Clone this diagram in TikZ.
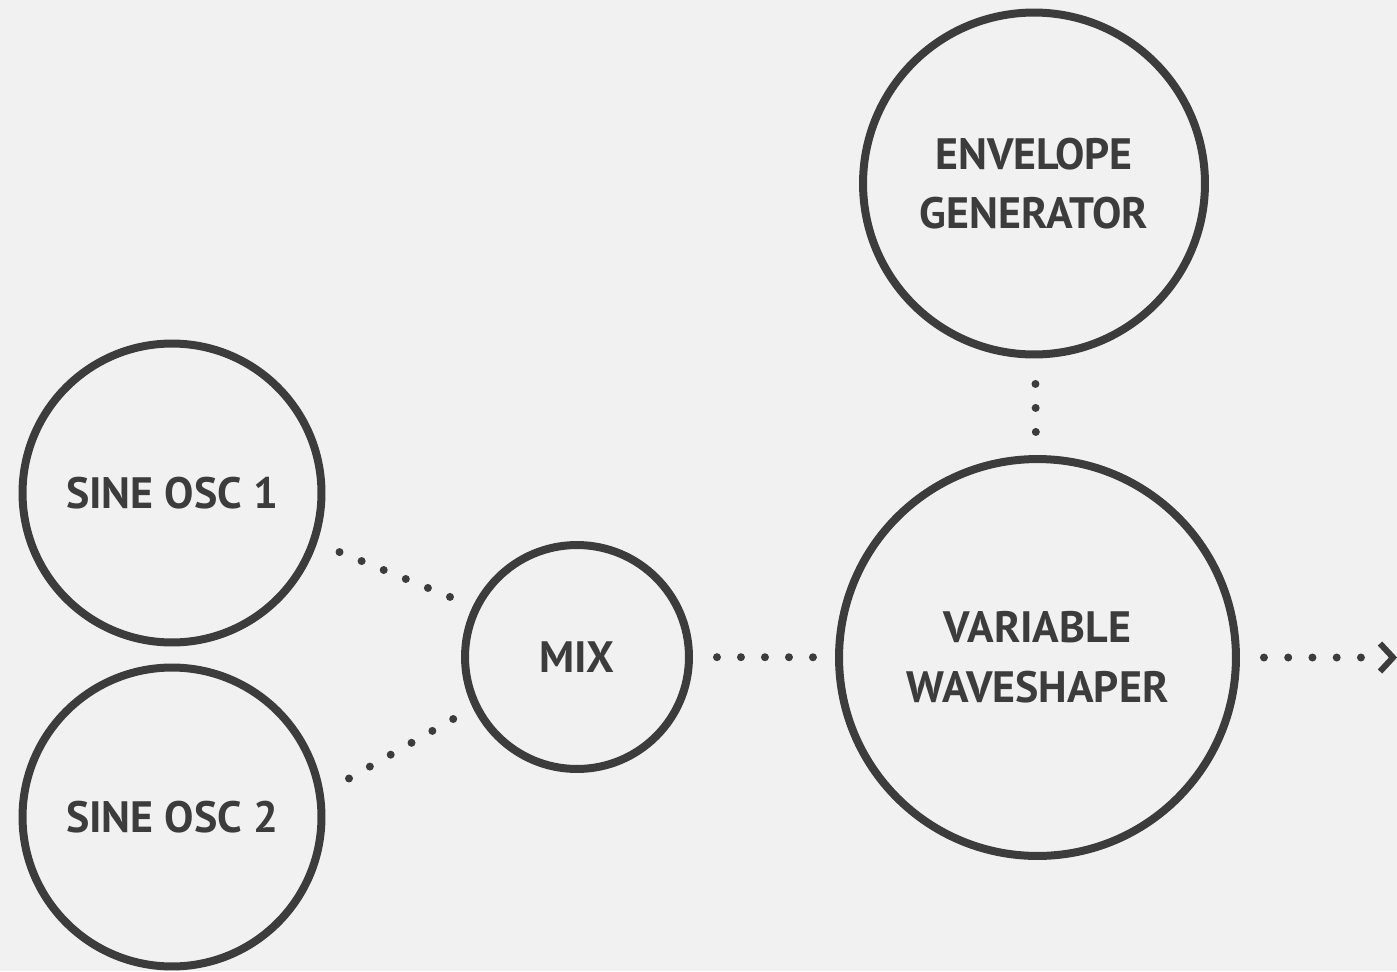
\documentclass[tikz,border=0pt]{standalone}
\usepackage{fontspec}
\setmainfont{PT Sans}
\usetikzlibrary{calc}
\definecolor{bgcol}{HTML}{F1F1F1}
\definecolor{inkcol}{HTML}{3C3C3C}
\begin{document}
\begin{tikzpicture}[x=0.02cm, y=-0.02cm,
	blob/.style={circle, draw=inkcol, line width=0.16cm, inner sep=0pt,
		align=center, text=inkcol, font=\bfseries\fontsize{25}{34}\selectfont},
	link/.style={inkcol, line width=0.16cm, line cap=round, dash pattern=on 0pt off #1},
	link/.default=0.48cm]
	\fill [bgcol] (0,0) rectangle (1397,971);
	\useasboundingbox (0,0) rectangle (1397,971);

		\node [blob, minimum size=5.98cm] (sine1) at (172,493) {SINE OSC 1};
		\node [blob, minimum size=5.98cm] (sine2) at (172,817) {SINE OSC 2};
		\node [blob, minimum size=4.48cm] (mix) at (577,657) {MIX};
		\node [blob, minimum size=6.84cm] (env) at (1034,183.5) {ENVELOPE\\GENERATOR};
		\node [blob, minimum size=7.94cm] (shaper) at (1037.5,657.5) {VARIABLE\\WAVESHAPER};
		\coordinate (out) at (1362,657.5);
		\coordinate (tip) at (1393,657.5);

		\draw [link=0.477cm, shorten <=0.484cm, shorten >=0.48cm] (sine1.-19.5) -- (mix.154.4);% osc 1 into mix
		\draw [link, shorten <=0.586cm, shorten >=0.43cm] (sine2.9.7) -- (mix.206.3);% osc 2 into mix
		\draw [link, shorten <=0.48cm, shorten >=0.44cm] (mix) -- (shaper);
		\draw [link, shorten <=0.51cm, shorten >=0.45cm] (env) -- (shaper);
		\draw [link=0.485cm, shorten <=0.48cm] (shaper) -- (out);% output
		\draw [inkcol, line width=0.12cm, miter limit=4] ($(tip)+(-13,-14)$) -- (tip) -- ($(tip)+(-13,14)$);
\end{tikzpicture}
\end{document}
